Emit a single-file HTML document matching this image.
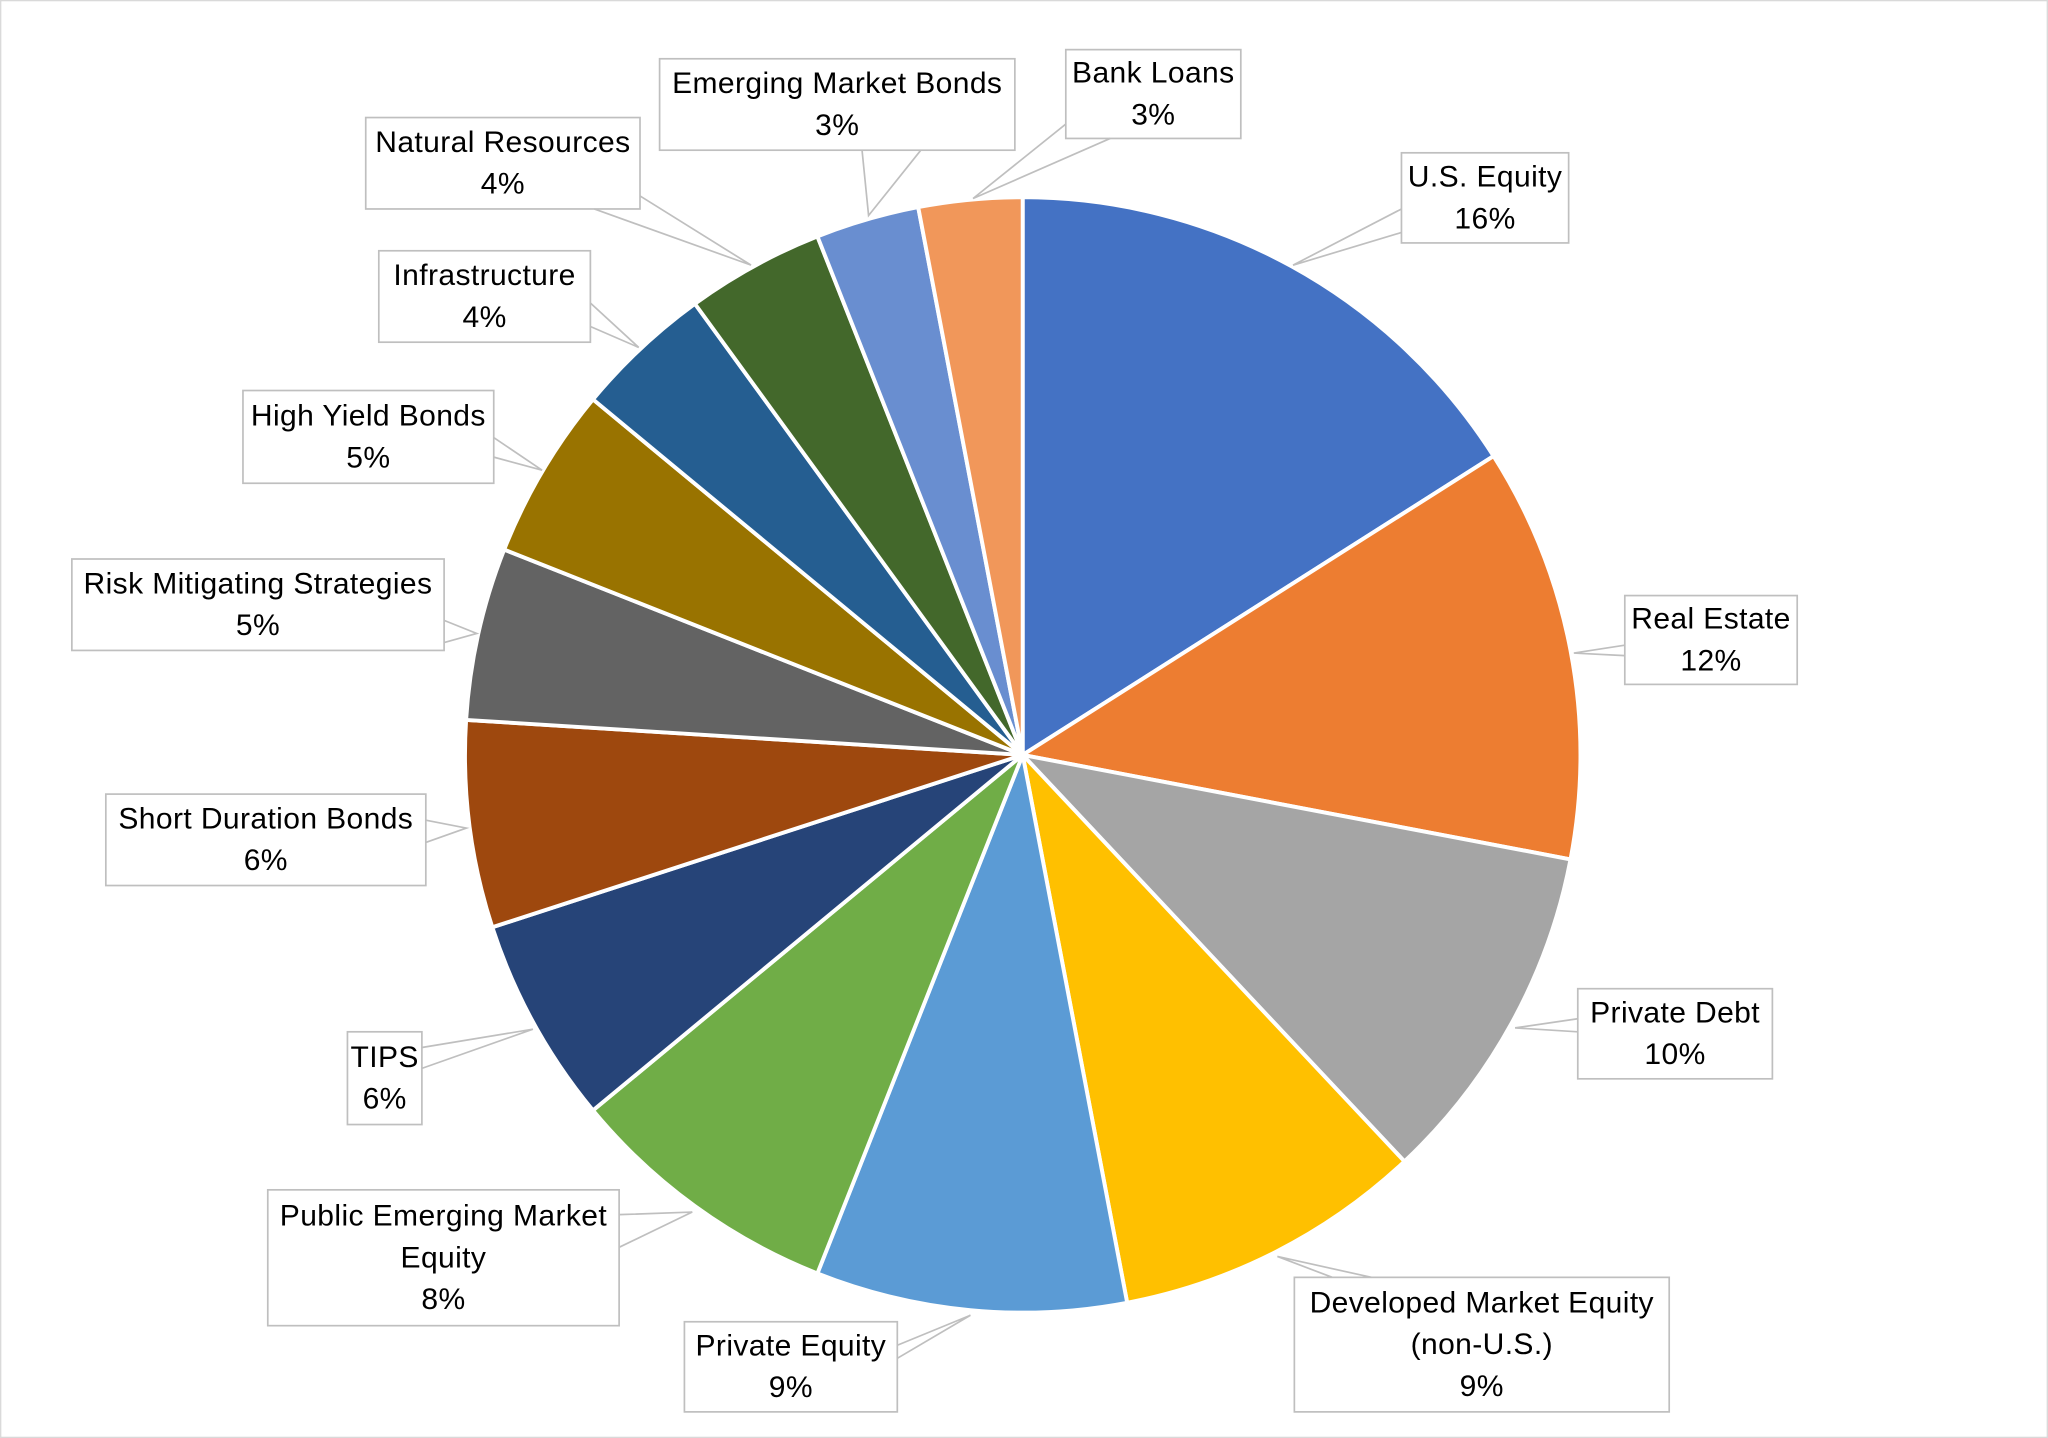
<!DOCTYPE html>
<html><head><meta charset="utf-8"><style>
html,body{margin:0;padding:0;background:#fff}
svg{display:block}
text{font-family:"Liberation Sans",sans-serif;font-size:23px;letter-spacing:0.3px;fill:#000;text-anchor:middle;dominant-baseline:central}
.b{fill:#fff;stroke:#bfbfbf;stroke-width:1.3}
.l{fill:none;stroke:#bfbfbf;stroke-width:1.3}
</style></head><body>
<svg width="2048" height="1438" viewBox="0 0 1568 1101" xmlns="http://www.w3.org/2000/svg">
<rect x="0.5" y="0.5" width="1567" height="1100" fill="#fff" stroke="#d9d9d9"/>
<g id="pie" stroke="#fff" stroke-width="3" stroke-linejoin="round"></g>
<g id="lab"></g>
</svg>
<script>
const cx=783,cy=578,r=427;
const d=[16,12,10,9,9,8,6,6,5,5,4,4,3,3];
const c=["#4472C4","#ED7D31","#A5A5A5","#FFC000","#5B9BD5","#70AD47","#264478","#9E480E","#636363","#997300","#255E91","#43682B","#698ED0","#F1975A"];
let a=0,s="";
const P=t=>[cx+r*Math.sin(t*Math.PI/180),cy-r*Math.cos(t*Math.PI/180)];
d.forEach((v,i)=>{const a1=a+v*3.6;const p0=P(a),p1=P(a1);
s+=`<path fill="${c[i]}" d="M${cx},${cy}L${p0[0]},${p0[1]}A${r},${r} 0 ${v>50?1:0} 1 ${p1[0]},${p1[1]}Z"/>`;a=a1;});
document.getElementById("pie").innerHTML=s;
const L=[
[1073,117,1201,186,["U.S. Equity","16%"],[[1073,160],[990,203],[1073,178]]],
[1244,456,1376,524,["Real Estate","12%"],[[1244,494],[1205,500],[1244,502]]],
[1208,757,1357,826,["Private Debt","10%"],[[1208,780],[1160,787],[1208,790]]],
[991,978,1278,1081,["Developed Market Equity","(non-U.S.)","9%"],[[1020,978],[978,962],[1050,978]]],
[524,1012,687,1081,["Private Equity","9%"],[[687,1030],[743,1007],[687,1040]]],
[205,911,474,1015,["Public Emerging Market","Equity","8%"],[[474,930],[530,928],[474,955]]],
[266,790,323,861,["TIPS","6%"],[[323,802],[408,788],[323,818]]],
[81,608,326,678,["Short Duration Bonds","6%"],[[326,628],[357,634],[326,645]]],
[55,428,340,498,["Risk Mitigating Strategies","5%"],[[340,475],[365,485],[340,492]]],
[186,299,378,370,["High Yield Bonds","5%"],[[378,335],[415,360],[378,350]]],
[290,192,452,262,["Infrastructure","4%"],[[452,232],[489,266],[452,250]]],
[280,90,490,160,["Natural Resources","4%"],[[455,160],[575,203],[490,150]]],
[505,45,777,115,["Emerging Market Bonds","3%"],[[660,115],[665,165],[705,115]]],
[816,38,950,106,["Bank Loans","3%"],[[816,95],[745,152],[850,106]]]];
let h="";
L.forEach(([x1,y1,x2,y2,t,w])=>{
h+=`<rect class="b" x="${x1}" y="${y1}" width="${x2-x1}" height="${y2-y1}"/>`;
h+=`<polyline class="l" points="${w.map(p=>p.join(',')).join(' ')}"/>`;
const n=t.length,mid=(y1+y2)/2;
t.forEach((q,i)=>{h+=`<text x="${(x1+x2)/2}" y="${mid+(i-(n-1)/2)*32}">${q}</text>`});});
document.getElementById("lab").innerHTML=h;
</script>
</body></html>
